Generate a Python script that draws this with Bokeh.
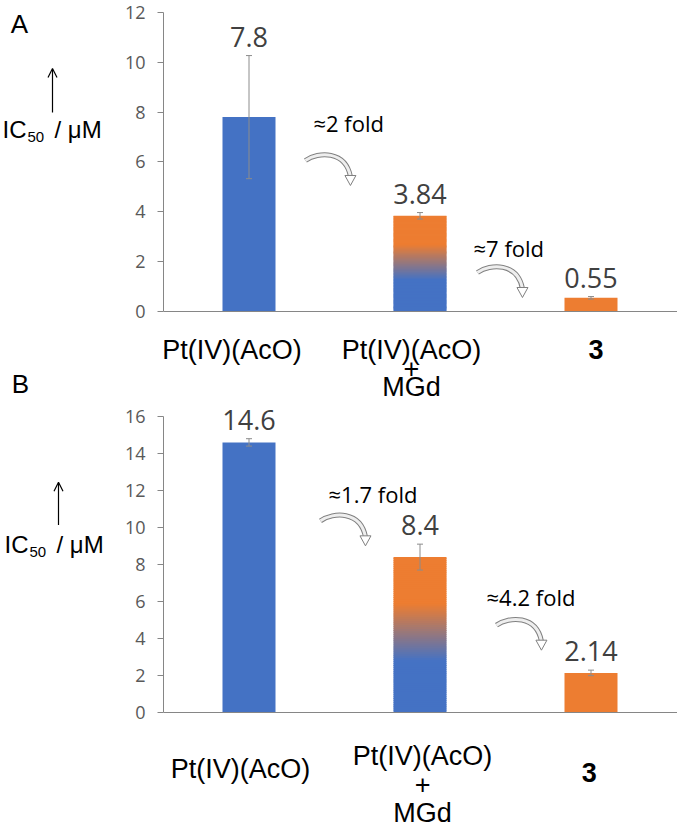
import numpy as np
from bokeh.plotting import figure
from bokeh.models import (Range1d, FixedTicker, Whisker, TeeHead, ColumnDataSource,
                          Arrow, OpenHead, Span)
from bokeh.layouts import column, row
from bokeh.embed import file_html
from bokeh.resources import INLINE
from bokeh.core.properties import value

# ---------------- data ----------------
categories = ["Pt(IV)(AcO)", "Pt(IV)(AcO)\n+\nMGd", "3"]
ic50_A = [7.8, 3.84, 0.55]
sd_A = [2.47, 0.13, 0.05]
ic50_B = [14.6, 8.4, 2.14]
sd_B = [0.20, 0.70, 0.15]
fold_A = ["≈2 fold", "≈7 fold"]
fold_B = ["≈1.7 fold", "≈4.2 fold"]
ticks_A = [0, 2, 4, 6, 8, 10, 12]
ticks_B = [0, 2, 4, 6, 8, 10, 12, 14, 16]

# ---------------- styling / layout ----------------
BLUE = "#4472C4"
ORANGE = "#ED7D31"
AXIS_C = "#868686"
ERR_C = "#8c8c8c"
TOTAL_W = 677
SIDE_W = 113          # width of the left annotation strip
AXIS_BORDER = 50      # room for the y axis inside the main figure
PX_X = 171.0          # pixels per category slot
BAR_W = 0.31


def hex2rgb(h):
    h = h.lstrip("#")
    return np.array([int(h[i:i + 2], 16) for i in (0, 2, 4)], dtype=float)


def base_fig(**kw):
    p = figure(output_backend="svg", toolbar_location=None,
               x_axis_location=None, min_border_right=0,
               min_border_top=0, min_border_bottom=0, **kw)
    p.outline_line_color = None
    p.grid.visible = False
    p.background_fill_color = "white"
    p.border_fill_color = "white"
    return p


def make_panel(vals, sds, ticks, folds, height, base_px, ppu, cfg):
    main_w = TOTAL_W - SIDE_W
    frame_w = main_w - AXIS_BORDER
    yr = Range1d(-(height - base_px) / ppu, base_px / ppu)
    p = base_fig(width=main_w, height=height,
                 x_range=Range1d(0, frame_w / PX_X), y_range=yr,
                 min_border_left=AXIS_BORDER)

    ax = p.yaxis[0]
    ax.ticker = FixedTicker(ticks=ticks)
    ax.bounds = (ticks[0], ticks[-1])
    ax.axis_line_color = AXIS_C
    ax.major_tick_line_color = AXIS_C
    ax.minor_tick_line_color = None
    ax.major_tick_in = 0
    ax.major_tick_out = 6
    ax.major_label_standoff = 12
    ax.major_label_text_font = "Open Sans"
    ax.major_label_text_font_size = "18px"
    ax.major_label_text_color = "#595959"

    p.add_layout(Span(location=0, dimension="width", line_color=AXIS_C, line_width=1))

    xs = [i + 0.5 for i in range(len(vals))]

    # plain bars
    p.vbar(x=[xs[0]], top=[vals[0]], width=BAR_W, fill_color=BLUE, line_color=None)
    p.vbar(x=[xs[2]], top=[vals[2]], width=BAR_W, fill_color=ORANGE, line_color=None)

    # gradient bar (blue bottom -> orange top)
    n = 80
    edges = np.linspace(0, vals[1], n + 1)
    overlap = 0.8 / ppu
    tops = np.minimum(edges[1:] + overlap, vals[1])
    b, o = hex2rgb(BLUE), hex2rgb(ORANGE)
    cols = []
    for i in range(n):
        t = (i + 0.5) / n
        f = float(np.clip((t - 0.33) / (0.70 - 0.33), 0, 1))
        c = b * (1 - f) + o * f
        cols.append("#%02x%02x%02x" % tuple(int(round(v)) for v in c))
    p.quad(left=xs[1] - BAR_W / 2, right=xs[1] + BAR_W / 2,
           bottom=edges[:-1], top=tops, fill_color=cols, line_color=None)

    # error bars
    upper = [v + s for v, s in zip(vals, sds)]
    lower = [v - s for v, s in zip(vals, sds)]
    src = ColumnDataSource(dict(x=xs, upper=upper, lower=lower))
    p.add_layout(Whisker(source=src, base="x", upper="upper", lower="lower",
                         line_color=ERR_C, line_width=1, level="annotation",
                         upper_head=TeeHead(size=6, line_color=ERR_C, line_width=1),
                         lower_head=TeeHead(size=6, line_color=ERR_C, line_width=1)))

    # value labels (digits end ~9 px above the error bar)
    p.text(x=xs, y=[u + 19 / ppu for u in upper], text=[f"{v:g}" for v in vals],
           text_align="center", text_baseline="middle",
           text_font=value("Open Sans"), text_font_size="27px", text_color="#404040")

    # category labels
    for i, lab in enumerate(categories):
        lines = lab.split("\n")
        for line, off in zip(lines, cfg["line_px"][i]):
            p.text(x=[cfg["cat_x"][i]], y=[-off / ppu], text=[line],
                   text_align="center", text_baseline="middle",
                   text_font=value("Liberation Sans"), text_font_size="27px",
                   text_font_style="bold" if lab == "3" else "normal",
                   text_color="black")

    # fold annotations
    for (fx, fy), txt in zip(cfg["fold_pos"], folds):
        p.text(x=[fx], y=[fy], text=[txt], text_align="left", text_baseline="middle",
               text_font=value("Open Sans"), text_font_size="22px", text_color="black")

    for (sx, sy) in cfg["arrow_start"]:
        def X(dx):
            return sx + dx / PX_X

        def Y(dy):
            return sy - dy / ppu
        kw = dict(x0=[X(0)], y0=[Y(0)], x1=[X(45)], y1=[Y(16)],
                  cx0=[X(13)], cy0=[Y(-9)], cx1=[X(40)], cy1=[Y(-10)])
        p.bezier(line_color="#808080", line_width=5, **kw)
        p.bezier(line_color="#eeeeee", line_width=3, **kw)
        p.patch(x=[X(39.5), X(50.5), X(45)], y=[Y(15), Y(15), Y(25)],
                fill_color="white", line_color="#808080", line_width=1)

    # left strip: panel letters and y label (shares the y scale of the panel)
    s = base_fig(width=SIDE_W, height=height, x_range=Range1d(0, SIDE_W),
                 y_range=yr, y_axis_location=None, min_border_left=0)
    ax_x, y0, y1 = cfg["yarrow"]
    s.add_layout(Arrow(end=OpenHead(size=9, line_width=1.2, line_color="black"),
                       x_start=ax_x, y_start=y0, x_end=ax_x, y_end=y1,
                       line_width=1.2, line_color="black"))
    tx, ty = cfg["ylabel"]
    tfont = value("Liberation Sans")
    s.text(x=[tx], y=[ty], text=["IC"], text_font=tfont, text_font_size="24px",
           text_baseline="middle", text_align="left", text_color="black")
    s.text(x=[tx + 25], y=[ty - 7 / ppu], text=["50"], text_font=tfont,
           text_font_size="15px", text_baseline="middle", text_align="left", text_color="black")
    s.text(x=[tx + 52], y=[ty], text=["/ μM"], text_font=tfont, text_font_size="24px",
           text_baseline="middle", text_align="left", text_color="black")
    for (lx, ly, lt) in cfg["letters"]:
        s.text(x=[lx], y=[ly], text=[lt], text_font=tfont, text_font_size="26px",
               text_baseline="middle", text_align="center", text_color="black")
    return row(s, p, spacing=0)


cfg_A = dict(
    cat_x=[0.40, 1.45, 2.53],
    line_px=[[38], [38, 57, 75], [38]],
    fold_pos=[(0.877, 7.58), (1.813, 2.53)],
    arrow_start=[(0.830, 6.06), (1.836, 1.565)],
    yarrow=(52, 7.99, 9.75),
    ylabel=(2, 7.30),
    letters=[(19, 11.54, "A"), (20, -2.91, "B")],
)
cfg_B = dict(
    cat_x=[0.45, 1.515, 2.49],
    line_px=[[56], [43, 72, 100], [60]],
    fold_pos=[(0.965, 11.81), (1.889, 6.23)],
    arrow_start=[(0.918, 10.36), (1.947, 4.72)],
    yarrow=(58, 10.14, 12.45),
    ylabel=(4, 9.07),
    letters=[],
)

rowA = make_panel(ic50_A, sd_A, ticks_A, fold_A, height=401, base_px=311, ppu=24.92, cfg=cfg_A)
rowB = make_panel(ic50_B, sd_B, ticks_B, fold_B, height=431, base_px=311, ppu=18.5, cfg=cfg_B)

layout = column(rowA, rowB, spacing=0)
open("out.html", "w").write(file_html(layout, INLINE))
